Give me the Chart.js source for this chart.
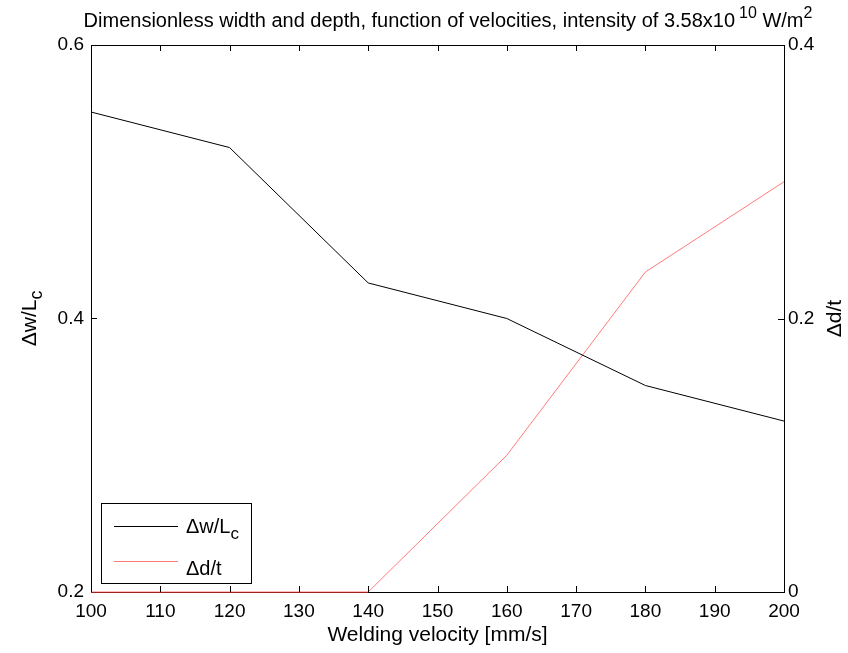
<!DOCTYPE html>
<html>
<head>
<meta charset="utf-8">
<script src="https://cdn.jsdelivr.net/npm/chart.js@4/dist/chart.umd.min.js"></script>
<style>
  html, body { margin: 0; padding: 0; background: #fff; }
  #wrap { width: 848px; height: 653px; position: relative; }
</style>
</head>
<body>
<div id="wrap"><canvas id="chart"></canvas></div>
<script>
const velocities = [100, 120, 140, 160, 180, 200];
const widthRatio = [0.551, 0.525, 0.426, 0.400, 0.351, 0.325];
const depthRatio = [0, 0, 0, 0.100, 0.234, 0.300];

const xTicks = [100, 110, 120, 130, 140, 150, 160, 170, 180, 190, 200];
const leftTicks = [0.2, 0.4, 0.6];
const rightTicks = [0, 0.2, 0.4];

const FONT = "'Liberation Sans', Arial, sans-serif";
const TICK_PX = 19;
const LABEL_PX = 21;
const BLACK = '#000000';
const RED = '#ff7b7b';

// draws a run of text pieces, some raised or lowered, starting at x
const drawRich = (ctx, parts, x, y, size) => {
  let cx = x;
  parts.forEach((p) => {
    const s = p.scale ? size * p.scale : size;
    ctx.font = `${s}px ${FONT}`;
    cx += p.gap || 0;
    ctx.fillText(p.t, cx, y + (p.dy || 0));
    cx += ctx.measureText(p.t).width;
  });
  return cx - x;
};

const richWidth = (ctx, parts, size) => {
  let w = 0;
  parts.forEach((p) => {
    const s = p.scale ? size * p.scale : size;
    ctx.font = `${s}px ${FONT}`;
    w += ctx.measureText(p.t).width + (p.gap || 0);
  });
  return w;
};

const titleParts = [
  { t: 'Dimensionless width and depth, function of velocities, intensity of 3.58x10' },
  { t: '10', dy: -9, scale: 0.8, gap: 4 },
  { t: ' W/m' },
  { t: '2', dy: -9, scale: 0.8 },
];
const leftLabel = [{ t: '\u0394w/L' }, { t: 'c', dy: 6, scale: 0.85 }];
const rightLabel = [{ t: '\u0394d/t' }];

const framePlugin = {
  id: 'frame',
  afterDatasetsDraw(chart) {
    const { ctx, chartArea: a, scales } = chart;
    const tick = 6;
    ctx.save();
    ctx.strokeStyle = BLACK;
    ctx.lineWidth = 1;
    ctx.beginPath();
    xTicks.forEach((v) => {
      const px = Math.round(scales.x.getPixelForValue(v)) + 0.5;
      ctx.moveTo(px, a.bottom);
      ctx.lineTo(px, a.bottom - tick);
      ctx.moveTo(px, a.top);
      ctx.lineTo(px, a.top + tick);
    });
    leftTicks.forEach((v) => {
      const py = Math.round(scales.y.getPixelForValue(v)) + 0.5;
      ctx.moveTo(a.left, py);
      ctx.lineTo(a.left + tick, py);
    });
    rightTicks.forEach((v) => {
      const py = Math.round(scales.y2.getPixelForValue(v)) + 0.5;
      ctx.moveTo(a.right, py);
      ctx.lineTo(a.right - tick, py);
    });
    ctx.stroke();
    ctx.strokeRect(Math.round(a.left) + 0.5, Math.round(a.top) + 0.5,
      Math.round(a.right - a.left), Math.round(a.bottom - a.top));

    // the flat part of the red series sits on the bottom edge
    ctx.strokeStyle = '#a02020';
    ctx.beginPath();
    ctx.moveTo(a.left, Math.round(a.bottom) + 0.5);
    ctx.lineTo(scales.x.getPixelForValue(velocities[2]), Math.round(a.bottom) + 0.5);
    ctx.stroke();
    ctx.strokeStyle = BLACK;

    // title
    ctx.fillStyle = BLACK;
    ctx.textBaseline = 'alphabetic';
    ctx.textAlign = 'left';
    const tSize = 20;
    const tw = richWidth(ctx, titleParts, tSize);
    drawRich(ctx, titleParts, 448 - tw / 2, 27, tSize);

    // x axis title
    ctx.font = `${LABEL_PX}px ${FONT}`;
    ctx.textAlign = 'center';
    ctx.fillText('Welding velocity [mm/s]', (a.left + a.right) / 2, 641);
    ctx.textAlign = 'left';

    // rotated y axis titles
    const midY = (a.top + a.bottom) / 2;
    ctx.save();
    ctx.translate(36, midY);
    ctx.rotate(-Math.PI / 2);
    const lw = richWidth(ctx, leftLabel, LABEL_PX);
    drawRich(ctx, leftLabel, -lw / 2, 0, LABEL_PX);
    ctx.restore();

    ctx.save();
    ctx.translate(841, midY);
    ctx.rotate(-Math.PI / 2);
    const rw = richWidth(ctx, rightLabel, LABEL_PX);
    drawRich(ctx, rightLabel, -rw / 2, 0, LABEL_PX);
    ctx.restore();

    // legend box
    const lg = { x: 101.5, y: 503.5, w: 150, h: 80 };
    ctx.fillStyle = '#ffffff';
    ctx.fillRect(lg.x, lg.y, lg.w, lg.h);
    ctx.strokeStyle = BLACK;
    ctx.strokeRect(lg.x, lg.y, lg.w, lg.h);
    ctx.lineWidth = 1;
    ctx.beginPath();
    ctx.moveTo(114, 526.5);
    ctx.lineTo(178, 526.5);
    ctx.stroke();
    ctx.strokeStyle = RED;
    ctx.beginPath();
    ctx.moveTo(114, 561.5);
    ctx.lineTo(178, 561.5);
    ctx.stroke();
    ctx.fillStyle = BLACK;
    drawRich(ctx, leftLabel, 186, 533, 20);
    drawRich(ctx, rightLabel, 186, 575, 20);
    ctx.restore();
  },
};

const axisFont = { family: FONT, size: TICK_PX };

new Chart(document.querySelector('#chart'), {
  type: 'line',
  data: {
    datasets: [
      {
        label: '\u0394w/Lc',
        data: velocities.map((v, i) => ({ x: v, y: widthRatio[i] })),
        yAxisID: 'y',
        borderColor: BLACK,
        borderWidth: 1,
        pointRadius: 0,
        tension: 0,
      },
      {
        label: '\u0394d/t',
        data: velocities.map((v, i) => ({ x: v, y: depthRatio[i] })),
        yAxisID: 'y2',
        borderColor: RED,
        borderWidth: 1,
        pointRadius: 0,
        tension: 0,
        clip: 2,
      },
    ],
  },
  options: {
    responsive: true,
    maintainAspectRatio: false,
    animation: false,
    events: [],
    layout: { padding: { top: 45, left: 0, right: 0, bottom: 0 } },
    plugins: { legend: { display: false }, title: { display: false }, tooltip: { enabled: false } },
    scales: {
      x: {
        type: 'linear',
        min: 100,
        max: 200,
        afterFit: (s) => { s.height = 61; },
        afterBuildTicks: (s) => { s.ticks = xTicks.map((v) => ({ value: v })); },
        grid: { display: false, drawTicks: false },
        border: { display: false },
        ticks: { color: BLACK, font: axisFont, padding: 8, maxRotation: 0, autoSkip: false, callback: (v) => String(v) },
      },
      y: {
        position: 'left',
        min: 0.2,
        max: 0.6,
        afterFit: (s) => { s.width = 91; },
        afterBuildTicks: (s) => { s.ticks = leftTicks.map((v) => ({ value: v })); },
        grid: { display: false, drawTicks: false },
        border: { display: false },
        ticks: { color: BLACK, font: axisFont, padding: 7, callback: (v) => String(Math.round(v * 10) / 10) },
      },
      y2: {
        position: 'right',
        min: 0,
        max: 0.4,
        afterFit: (s) => { s.width = 64; },
        afterBuildTicks: (s) => { s.ticks = rightTicks.map((v) => ({ value: v })); },
        grid: { display: false, drawTicks: false },
        border: { display: false },
        ticks: { color: BLACK, font: axisFont, padding: 4, callback: (v) => (v === 0 ? '0' : String(Math.round(v * 10) / 10)) },
      },
    },
  },
  plugins: [framePlugin],
});
</script>
</body>
</html>
